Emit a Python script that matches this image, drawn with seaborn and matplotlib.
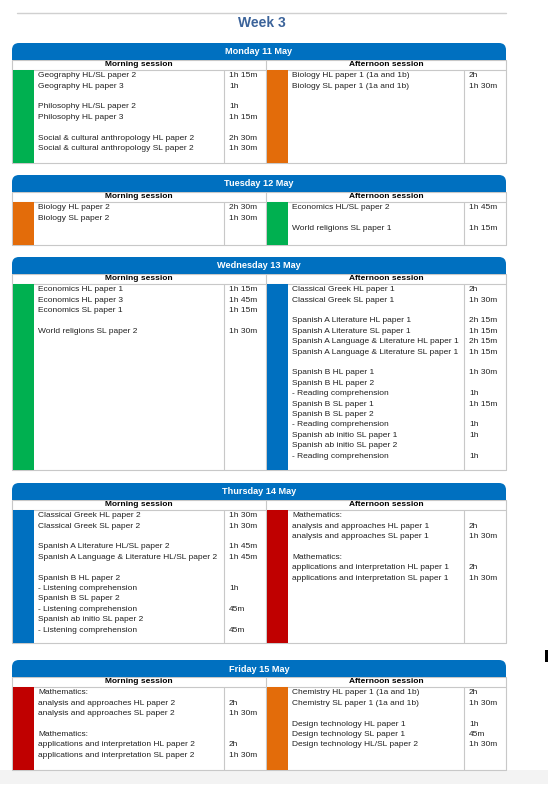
import matplotlib
matplotlib.use("Agg")
import matplotlib.pyplot as plt
import seaborn as sns
from matplotlib.patches import FancyBboxPatch, Rectangle

sns.set_style("white")
plt.rcParams['font.family'] = ['Liberation Sans', 'DejaVu Sans']

title = "Week 3"
days = ["Monday 11 May", "Tuesday 12 May", "Wednesday 13 May", "Thursday 14 May", "Friday 15 May"]
morning_colors = ["#00B050", "#E36C0A", "#00B050", "#0070C0", "#C00000"]
afternoon_colors = ["#E36C0A", "#00B050", "#0070C0", "#C00000", "#E36C0A"]

morning = [
    [("Geography HL/SL paper 2", "1h 15m"), ("Geography HL paper 3", "1h"), ("", ""),
     ("Philosophy HL/SL paper 2", "1h"), ("Philosophy HL paper 3", "1h 15m"), ("", ""),
     ("Social & cultural anthropology HL paper 2", "2h 30m"),
     ("Social & cultural anthropology SL paper 2", "1h 30m")],
    [("Biology HL paper 2", "2h 30m"), ("Biology SL paper 2", "1h 30m")],
    [("Economics HL paper 1", "1h 15m"), ("Economics HL paper 3", "1h 45m"),
     ("Economics SL paper 1", "1h 15m"), ("", ""), ("World religions SL paper 2", "1h 30m")],
    [("Classical Greek HL paper 2", "1h 30m"), ("Classical Greek SL paper 2", "1h 30m"), ("", ""),
     ("Spanish A Literature HL/SL paper 2", "1h 45m"),
     ("Spanish A Language & Literature HL/SL paper 2", "1h 45m"), ("", ""),
     ("Spanish B HL paper 2", ""), ("- Listening comprehension", "1h"),
     ("Spanish B SL paper 2", ""), ("- Listening comprehension", "45m"),
     ("Spanish ab initio SL paper 2", ""), ("- Listening comprehension", "45m")],
    [("Mathematics:", ""), ("analysis and approaches HL paper 2", "2h"),
     ("analysis and approaches SL paper 2", "1h 30m"), ("", ""), ("Mathematics:", ""),
     ("applications and interpretation HL paper 2", "2h"),
     ("applications and interpretation SL paper 2", "1h 30m")],
]
afternoon = [
    [("Biology HL paper 1 (1a and 1b)", "2h"), ("Biology SL paper 1 (1a and 1b)", "1h 30m")],
    [("Economics HL/SL paper 2", "1h 45m"), ("", ""), ("World religions SL paper 1", "1h 15m")],
    [("Classical Greek HL paper 1", "2h"), ("Classical Greek SL paper 1", "1h 30m"), ("", ""),
     ("Spanish A Literature HL paper 1", "2h 15m"), ("Spanish A Literature SL paper 1", "1h 15m"),
     ("Spanish A Language & Literature HL paper 1", "2h 15m"),
     ("Spanish A Language & Literature SL paper 1", "1h 15m"), ("", ""),
     ("Spanish B HL paper 1", "1h 30m"), ("Spanish B HL paper 2", ""),
     ("- Reading comprehension", "1h"), ("Spanish B SL paper 1", "1h 15m"),
     ("Spanish B SL paper 2", ""), ("- Reading comprehension", "1h"),
     ("Spanish ab initio SL paper 1", "1h"), ("Spanish ab initio SL paper 2", ""),
     ("- Reading comprehension", "1h")],
    [("Mathematics:", ""), ("analysis and approaches HL paper 1", "2h"),
     ("analysis and approaches SL paper 1", "1h 30m"), ("", ""), ("Mathematics:", ""),
     ("applications and interpretation HL paper 1", "2h"),
     ("applications and interpretation SL paper 1", "1h 30m")],
    [("Chemistry HL paper 1 (1a and 1b)", "2h"), ("Chemistry SL paper 1 (1a and 1b)", "1h 30m"),
     ("", ""), ("Design technology HL paper 1", "1h"), ("Design technology SL paper 1", "45m"),
     ("Design technology HL/SL paper 2", "1h 30m")],
]

# layout (pixels)
block_tops = [43, 175, 257, 483, 660]
body_bottoms = [163, 245, 470, 643, 770]
X0, X1, XM = 12, 506, 266
BAR_W = 21
GRID = "#c8c8c8"
BLUE = "#0070C0"

fig = plt.figure(figsize=(5.48, 7.98), dpi=100)
ax = fig.add_axes([0, 0, 1, 1])
ax.set_xlim(0, 548)
ax.set_ylim(798, 0)
ax.axis("off")

ax.plot([17, 506], [13, 13], color="#d0d0d0", lw=1)
ax.text(262, 23, title, ha="center", va="center", fontsize=10, fontweight="bold", color="#3B639A")

ax.add_patch(Rectangle((0, 770), 548, 14, color="#f3f3f3", lw=0, zorder=0))
ax.add_patch(Rectangle((545, 650), 3, 12, color="black", lw=0))

fs = 6.0
for i, day in enumerate(days):
    top = block_tops[i]
    hb = top + 17
    sb = hb + 9.5
    bot = body_bottoms[i]
    ax.add_patch(FancyBboxPatch((X0, top), X1 - X0, 17, boxstyle="round,pad=0,rounding_size=7",
                                color=BLUE, lw=0, zorder=2))
    ax.add_patch(Rectangle((X0, top + 8), X1 - X0, 9, color=BLUE, lw=0, zorder=2))
    ax.text((X0 + X1) / 2, top + 9, day, ha="center", va="center", fontsize=6.6,
            fontweight="bold", color="white", zorder=3)
    ax.plot([X0, X1, X1, X0, X0], [hb, hb, bot, bot, hb], color=GRID, lw=0.8, zorder=1)
    ax.plot([X0, X1], [sb, sb], color=GRID, lw=0.8)
    ax.plot([XM, XM], [hb, bot], color=GRID, lw=0.8)
    for xs, xe, label, col, lines in [(X0, XM, "Morning session", morning_colors[i], morning[i]),
                                      (XM, X1, "Afternoon session", afternoon_colors[i], afternoon[i])]:
        ax.text((xs + xe) / 2, hb + 4.8, label, ha="center", va="center", fontsize=6.0,
                fontweight="bold", color="black")
        ax.add_patch(Rectangle((xs + 0.5, sb), BAR_W, bot - sb, color=col, lw=0, zorder=2))
        xd = 224 if xs == X0 else 464
        ax.plot([xd, xd], [sb, bot], color=GRID, lw=0.8)
        for j, (t, d) in enumerate(lines):
            y = sb + 6.3 + j * 10.4
            ax.text(xs + 26, y, t, ha="left", va="center", fontsize=fs, color="#222222")
            ax.text(xd + 5, y, d, ha="left", va="center", fontsize=fs, color="#222222")

fig.savefig("out.png", dpi=100, facecolor="white")
